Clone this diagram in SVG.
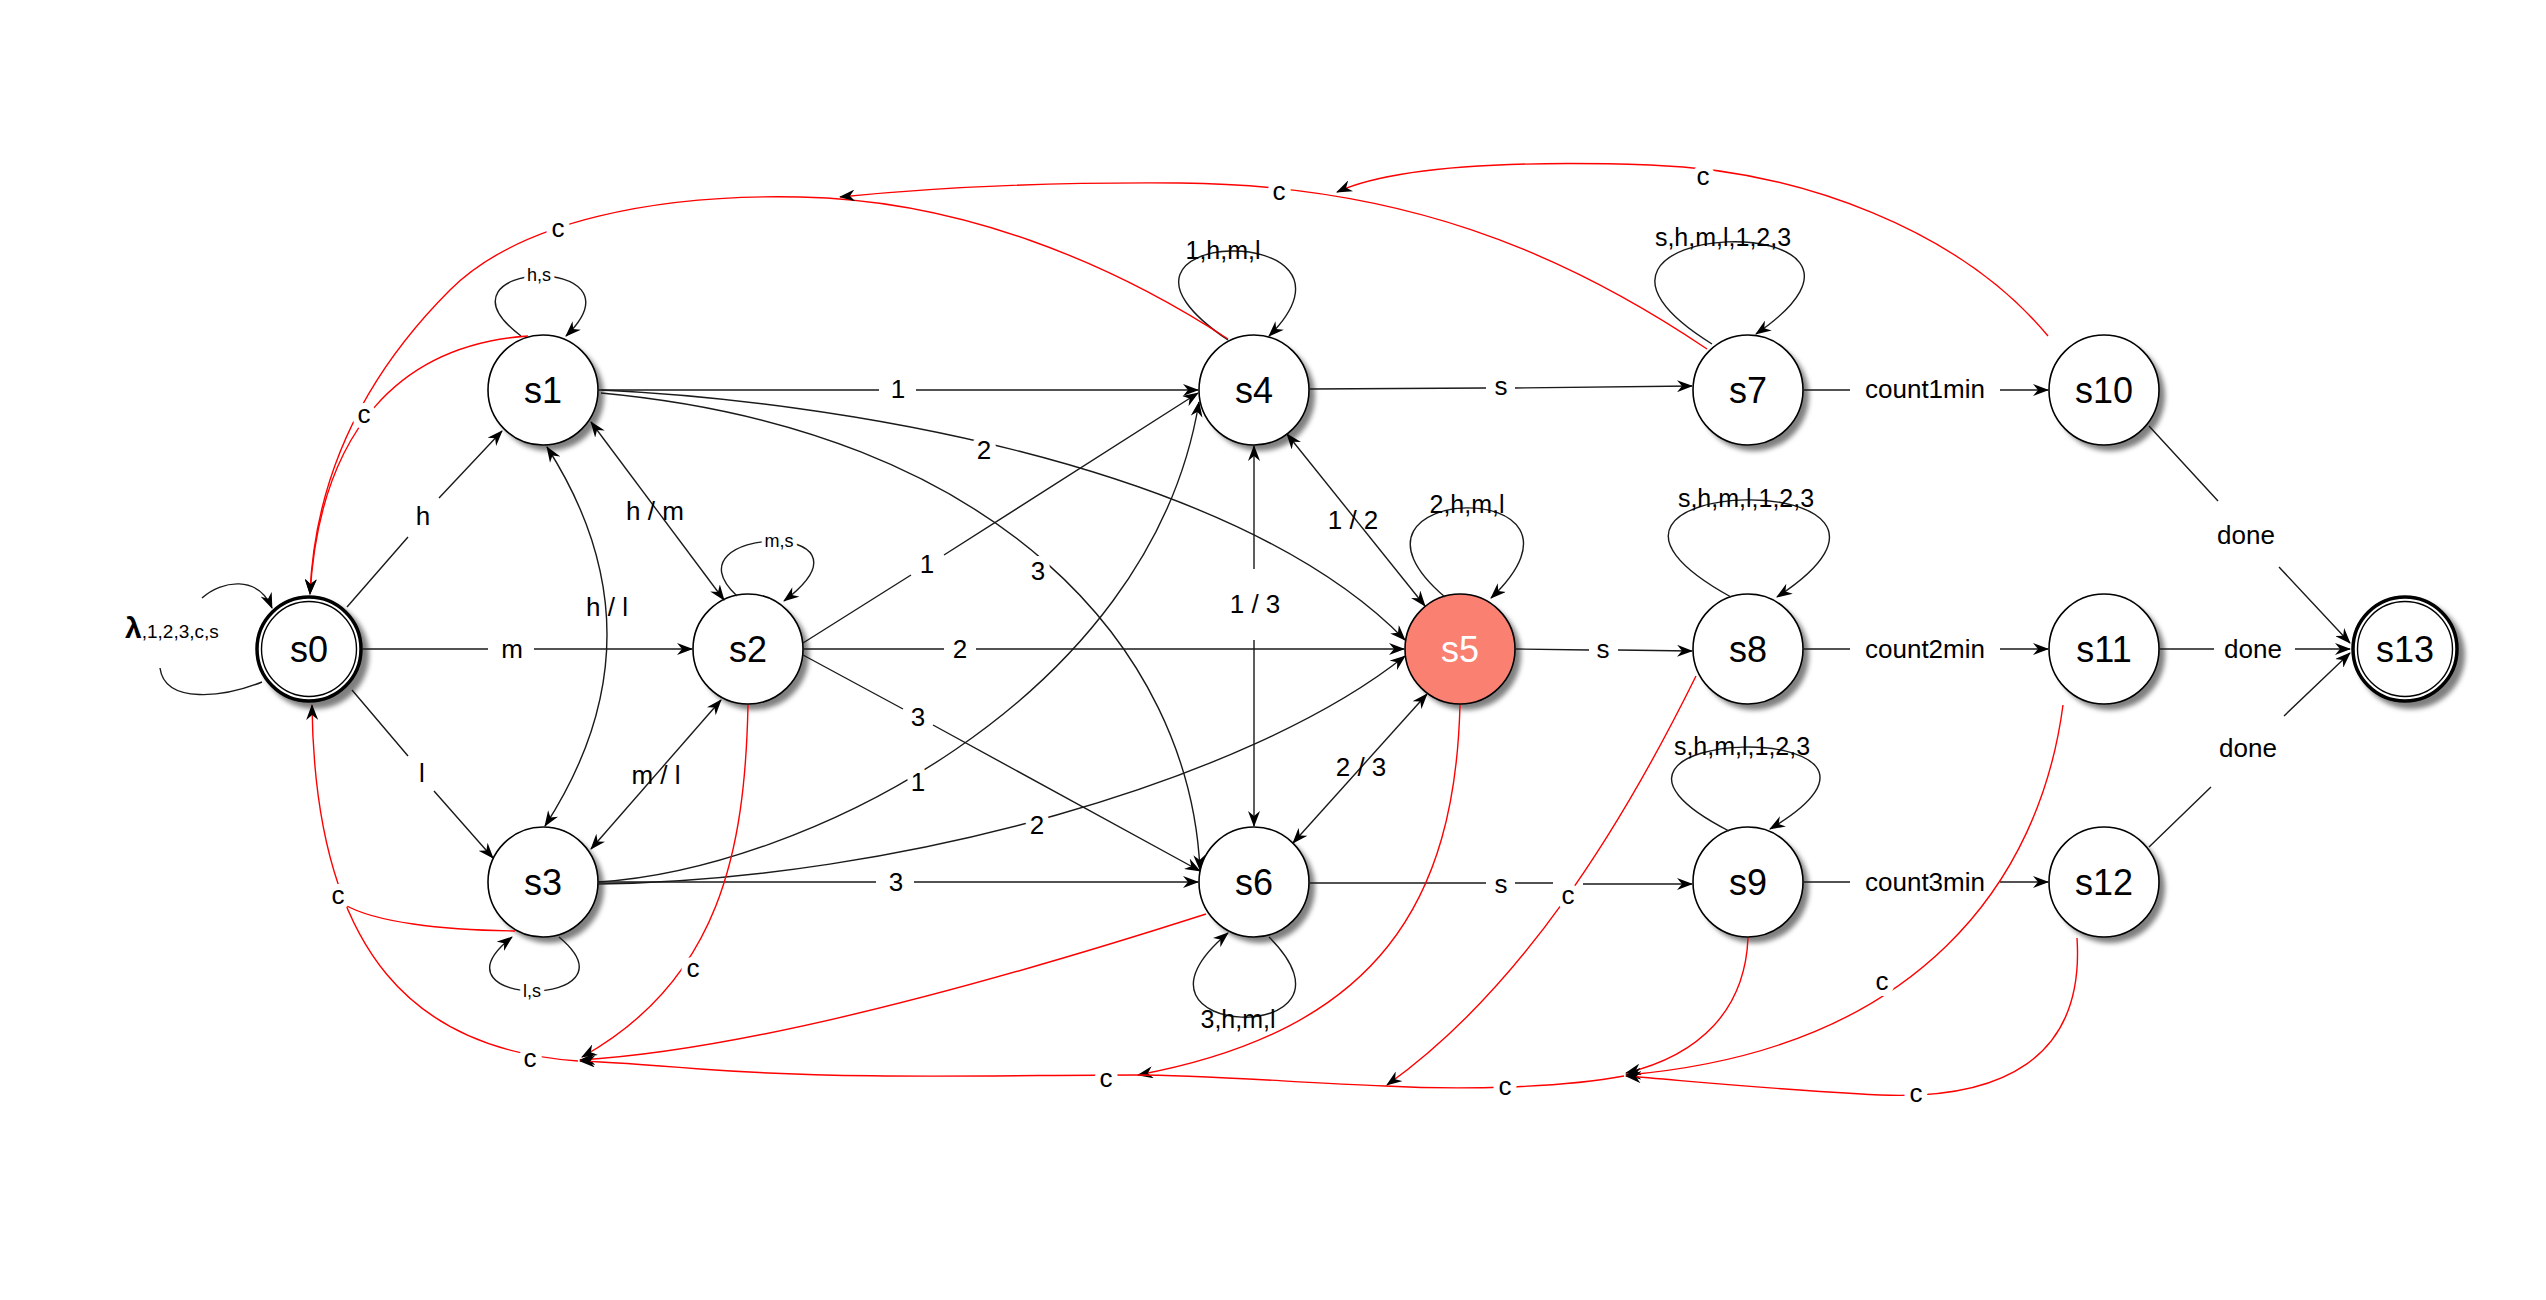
<svg xmlns="http://www.w3.org/2000/svg" width="2546" height="1300" viewBox="0 0 2546 1300">
<style>
.t{font-family:"Liberation Sans",Arial,sans-serif;fill:#000}
.n{font-size:36px;text-anchor:middle;dominant-baseline:central}
.l{font-size:26px;text-anchor:middle;dominant-baseline:central}
.lp{font-size:25px;text-anchor:middle;dominant-baseline:central}
.sm{font-size:18px;text-anchor:middle;dominant-baseline:central}
.h{paint-order:stroke;stroke:#fff;stroke-width:12px;stroke-linejoin:round}
.e{fill:none;stroke:#1a1a1a;stroke-width:1.4}
.r{fill:none;stroke:#f00;stroke-width:1.4}
.a{marker-end:url(#ar)}
.b{marker-start:url(#ar);marker-end:url(#ar)}
.c{fill:#fff;stroke:#000;stroke-width:1.6}
.sh{fill:#555;opacity:.75;filter:url(#bl)}
</style>
<defs>
<marker id="ar" viewBox="0 0 16 12" refX="15" refY="6" markerWidth="16" markerHeight="12" markerUnits="userSpaceOnUse" orient="auto-start-reverse"><path d="M0,0 L16,6 L0,12 L5,6 Z" fill="#000"/></marker>
<filter id="bl" x="-20%" y="-20%" width="140%" height="140%"><feGaussianBlur stdDeviation="2.5"/></filter>
</defs>
<rect width="2546" height="1300" fill="#fff"/>

<g id="s0"><circle class="sh" cx="315" cy="655" r="54"/><circle cx="309" cy="649" r="52" fill="#fff" stroke="#000" stroke-width="3.5"/><circle cx="309" cy="649" r="47.5" fill="none" stroke="#000" stroke-width="1.4"/><text class="t n" x="309" y="649">s0</text></g>
<g id="s1"><circle class="sh" cx="549" cy="396" r="55"/><circle class="c" cx="543" cy="390" r="55"/><text class="t n" x="543" y="390">s1</text></g>
<g id="s2"><circle class="sh" cx="754" cy="655" r="55"/><circle class="c" cx="748" cy="649" r="55"/><text class="t n" x="748" y="649">s2</text></g>
<g id="s3"><circle class="sh" cx="549" cy="888" r="55"/><circle class="c" cx="543" cy="882" r="55"/><text class="t n" x="543" y="882">s3</text></g>
<g id="s4"><circle class="sh" cx="1260" cy="396" r="55"/><circle class="c" cx="1254" cy="390" r="55"/><text class="t n" x="1254" y="390">s4</text></g>
<g id="s5"><circle class="sh" cx="1466" cy="655" r="55"/><circle cx="1460" cy="649" r="55" fill="#fa8072" stroke="#000" stroke-width="1.6"/><text class="t n" x="1460" y="649" style="fill:#fff">s5</text></g>
<g id="s6"><circle class="sh" cx="1260" cy="888" r="55"/><circle class="c" cx="1254" cy="882" r="55"/><text class="t n" x="1254" y="882">s6</text></g>
<g id="s7"><circle class="sh" cx="1754" cy="396" r="55"/><circle class="c" cx="1748" cy="390" r="55"/><text class="t n" x="1748" y="390">s7</text></g>
<g id="s8"><circle class="sh" cx="1754" cy="655" r="55"/><circle class="c" cx="1748" cy="649" r="55"/><text class="t n" x="1748" y="649">s8</text></g>
<g id="s9"><circle class="sh" cx="1754" cy="888" r="55"/><circle class="c" cx="1748" cy="882" r="55"/><text class="t n" x="1748" y="882">s9</text></g>
<g id="s10"><circle class="sh" cx="2110" cy="396" r="55"/><circle class="c" cx="2104" cy="390" r="55"/><text class="t n" x="2104" y="390">s10</text></g>
<g id="s11"><circle class="sh" cx="2110" cy="655" r="55"/><circle class="c" cx="2104" cy="649" r="55"/><text class="t n" x="2104" y="649">s11</text></g>
<g id="s12"><circle class="sh" cx="2110" cy="888" r="55"/><circle class="c" cx="2104" cy="882" r="55"/><text class="t n" x="2104" y="882">s12</text></g>
<g id="s13"><circle class="sh" cx="2411" cy="655" r="54"/><circle cx="2405" cy="649" r="52" fill="#fff" stroke="#000" stroke-width="3.5"/><circle cx="2405" cy="649" r="47.5" fill="none" stroke="#000" stroke-width="1.4"/><text class="t n" x="2405" y="649">s13</text></g>

<g id="connectors">
<!-- black edges -->
<path class="e a" d="M347,607 L408,537 M439,498 L502,431"/>
<path class="e a" d="M362,649 L488,649 M534,649 L692,649"/>
<path class="e a" d="M352,690 L408,756 M434,791 L493,858"/>
<path class="e" d="M262,682 C225,697 165,705 160,668"/>
<path class="e a" d="M202,598 C222,580 258,575 272,608"/>
<path class="e a" d="M521,336 C421,260 652,252 566,336"/>
<path class="e b" d="M591,422 L724,600"/>
<path class="e b" d="M547,447 Q668,636 545,826"/>
<path class="e a" d="M737,596 C661,526 893,518 784,601"/>
<path class="e b" d="M721,700 L591,849"/>
<path class="e a" d="M598,390 L879,390 M916,390 L1198,390"/>
<path class="e a" d="M601,390 C820,400 1230,460 1405,640"/>
<path class="e a" d="M601,393 C1000,430 1190,650 1200,870"/>
<path class="e a" d="M803,643 L911,575 M944,555 L1198,393"/>
<path class="e a" d="M803,649 L944,649 M976,649 L1404,649"/>
<path class="e a" d="M803,655 L903,709 M933,725 L1200,871"/>
<path class="e a" d="M598,882 C800,870 1150,700 1199,402"/>
<path class="e a" d="M598,884 C900,880 1250,780 1405,656"/>
<path class="e a" d="M598,882 L876,882 M914,882 L1198,882"/>
<path class="e a" d="M559,937 C645,1009 421,1009 512,937"/>
<path class="e a" d="M1228,340 C1059,226 1388,218 1269,336"/>
<path class="e b" d="M1287,434 L1425,606"/>
<path class="e b" d="M1254,446 L1254,569 M1254,640 L1254,826"/>
<path class="e b" d="M1427,694 L1293,843"/>
<path class="e a" d="M1445,597 C1310,482 1621,474 1491,598"/>
<path class="e a" d="M1269,937 C1380,1048 1099,1041 1228,933"/>
<path class="e a" d="M1310,389 L1486,388 M1515,388 L1692,386"/>
<path class="e a" d="M1516,649 L1589,650 M1618,650 L1692,651"/>
<path class="e a" d="M1310,883 L1486,883 M1515,883 L1553,883 M1583,884 L1692,884"/>
<path class="e a" d="M1712,344 C1504,215 1945,204 1756,334"/>
<path class="e a" d="M1731,597 C1504,472 1982,463 1777,597"/>
<path class="e a" d="M1729,831 C1520,724 1963,715 1770,829"/>
<path class="e a" d="M1804,390 L1850,390 M2000,390 L2048,390"/>
<path class="e a" d="M1804,649 L1850,649 M2000,649 L2048,649"/>
<path class="e a" d="M1804,882 L1850,882 M2000,882 L2048,882"/>
<path class="e a" d="M2149,426 L2218,501 M2279,567 L2350,643"/>
<path class="e a" d="M2159,649 L2214,649 M2295,649 L2350,649"/>
<path class="e a" d="M2149,847 L2211,787 M2284,716 L2350,653"/>
<!-- red c edges -->
<path class="r a" d="M528,336 C400,345 320,430 310,594"/>
<path class="r a" d="M1228,339 C1110,262 960,200 800,197 C660,194 520,220 450,290 C370,370 315,470 310,594"/>
<path class="r a" d="M1707,349 C1560,250 1400,185 1180,183 C1050,182 930,188 840,197"/>
<path class="r a" d="M2048,336 C1960,230 1800,170 1650,165 C1500,160 1390,168 1337,192"/>
<path class="r" d="M515,931 C440,930 375,922 345,905"/>
<path class="r a" d="M578,1061 C420,1050 315,960 312,705"/>
<path class="r a" d="M1206,914 C1000,980 750,1050 580,1060"/>
<path class="r a" d="M748,705 C745,850 720,980 582,1057"/>
<path class="r a" d="M1460,705 C1455,900 1380,1030 1138,1075"/>
<path class="r a" d="M1624,1076 C1560,1088 1460,1090 1385,1086 C1290,1082 1200,1075 1136,1075 C1000,1075 850,1080 700,1069 C650,1065 610,1062 580,1061"/>
<path class="r a" d="M1696,676 C1620,830 1520,990 1387,1085"/>
<path class="r a" d="M1748,938 C1745,1010 1700,1055 1626,1073"/>
<path class="r a" d="M2063,705 C2040,880 1920,1050 1626,1075"/>
<path class="r a" d="M2077,938 C2085,1060 2000,1100 1880,1095 C1780,1090 1700,1082 1626,1076"/>
</g>

<g id="labels">
<text class="t l" x="423" y="516">h</text>
<text class="t l" x="512" y="649">m</text>
<text class="t l" x="422" y="773">l</text>
<text class="t" x="125" y="638"><tspan font-size="30" font-weight="bold">λ</tspan><tspan font-size="19">,1,2,3,c,s</tspan></text>
<text class="t sm h" x="539" y="275" style="stroke-width:8px">h,s</text>
<text class="t l" x="655" y="511">h / m</text>
<text class="t l" x="607" y="607">h / l</text>
<text class="t sm h" x="779" y="541" style="stroke-width:8px">m,s</text>
<text class="t l" x="656" y="775">m / l</text>
<text class="t sm h" x="532" y="991" style="stroke-width:8px">l,s</text>
<text class="t l" x="898" y="389">1</text>
<text class="t l h" x="984" y="450">2</text>
<text class="t l h" x="1038" y="571">3</text>
<text class="t l" x="927" y="564">1</text>
<text class="t l" x="960" y="649">2</text>
<text class="t l" x="918" y="717">3</text>
<text class="t l h" x="918" y="782">1</text>
<text class="t l h" x="1037" y="825">2</text>
<text class="t l" x="896" y="882">3</text>
<text class="t lp" x="1223" y="250">1,h,m,l</text>
<text class="t l" x="1353" y="520">1 / 2</text>
<text class="t l" x="1255" y="604">1 / 3</text>
<text class="t l" x="1361" y="767">2 / 3</text>
<text class="t lp" x="1467" y="504">2,h,m,l</text>
<text class="t lp" x="1238" y="1019">3,h,m,l</text>
<text class="t l" x="1501" y="386">s</text>
<text class="t l" x="1603" y="649">s</text>
<text class="t l" x="1501" y="884">s</text>
<text class="t lp" x="1723" y="237">s,h,m,l,1,2,3</text>
<text class="t lp" x="1746" y="498">s,h,m,l,1,2,3</text>
<text class="t lp" x="1742" y="746">s,h,m,l,1,2,3</text>
<text class="t l" x="1925" y="389">count1min</text>
<text class="t l" x="1925" y="649">count2min</text>
<text class="t l" x="1925" y="882">count3min</text>
<text class="t l" x="2246" y="535">done</text>
<text class="t l" x="2253" y="649">done</text>
<text class="t l" x="2248" y="748">done</text>
<text class="t l h" x="364" y="414">c</text>
<text class="t l h" x="558" y="228">c</text>
<text class="t l h" x="1279" y="191">c</text>
<text class="t l h" x="1703" y="176">c</text>
<text class="t l h" x="338" y="895">c</text>
<text class="t l h" x="530" y="1058">c</text>
<text class="t l h" x="693" y="968">c</text>
<text class="t l h" x="1106" y="1078">c</text>
<text class="t l h" x="1505" y="1086">c</text>
<text class="t l h" x="1568" y="895">c</text>
<text class="t l h" x="1882" y="981">c</text>
<text class="t l h" x="1916" y="1093">c</text>
</g>
</svg>
